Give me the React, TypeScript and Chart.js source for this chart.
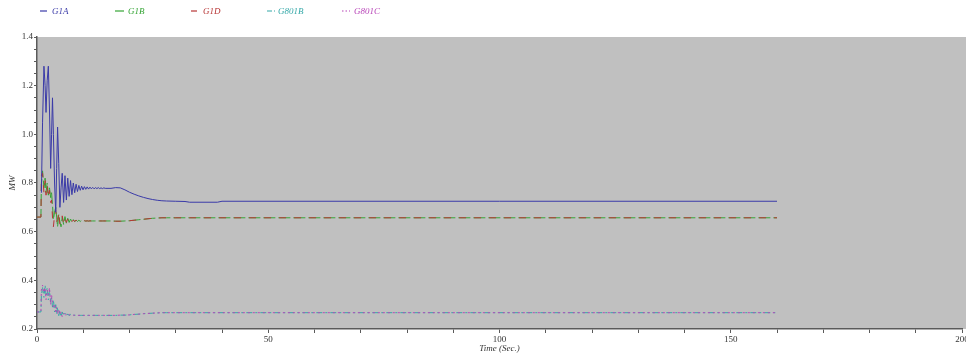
import React, { useEffect, useRef } from "react";
import { Chart, registerables } from "chart.js";

Chart.register(...registerables);

// Time axis (seconds)
const time = [
  0, 0.85, 0.95, 1.2, 1.5, 1.75, 1.95, 2.2, 2.45, 2.7,
  2.95, 3.15, 3.35, 3.55, 3.8, 4.05, 4.25, 4.45, 4.7, 4.95,
  5.2, 5.45, 5.75, 6.05, 6.35, 6.65, 6.95, 7.25, 7.55, 7.85,
  8.15, 8.45, 8.75, 9.05, 9.35, 9.65, 9.95, 10.25, 10.55, 10.85,
  11.15, 11.45, 11.75, 12.05, 12.35, 12.65, 12.95, 13.25, 13.55, 13.85,
  14.15, 14.45, 14.75, 16, 17, 18, 19, 20, 21, 22,
  23, 24, 25, 26, 27, 28, 30, 32, 33, 39,
  40, 160,
];

const g1a = [
  null, null, 0.76, 1.05, 1.28, 1.2, 1.09, 1.22, 1.28, 1.1,
  0.86, 1.0, 1.15, 1.0, 0.8, 0.68, 0.86, 1.03, 0.88, 0.7,
  0.78, 0.84, 0.72, 0.83, 0.73, 0.82, 0.745, 0.81, 0.752, 0.8,
  0.76, 0.795, 0.765, 0.79, 0.77, 0.787, 0.772, 0.785, 0.774, 0.784,
  0.775, 0.783, 0.776, 0.782, 0.776, 0.781, 0.777, 0.781, 0.777, 0.78,
  0.777, 0.78, 0.778, 0.778, 0.781, 0.78, 0.772, 0.762, 0.754, 0.747,
  0.741, 0.736, 0.732, 0.729, 0.727, 0.726, 0.725, 0.724, 0.721, 0.721,
  0.725, 0.725,
];

const g1b = [
  0.66, 0.66, 0.8, 0.85, 0.78, 0.82, 0.76, 0.8, 0.75, 0.78,
  0.74, 0.76, 0.71, 0.65, 0.68, 0.7, 0.66, 0.62, 0.67, 0.64,
  0.62, 0.66, 0.63, 0.662, 0.635, 0.655, 0.638, 0.652, 0.64, 0.65,
  0.641, 0.648, 0.642, 0.647, 0.642, 0.646, 0.643, 0.645, 0.643, 0.645,
  0.643, 0.645, 0.644, 0.644, 0.644, 0.644, 0.644, 0.644, 0.644, 0.644,
  0.644, 0.644, 0.644, 0.644, 0.643, 0.643, 0.644, 0.645, 0.647, 0.649,
  0.651, 0.653, 0.655, 0.656, 0.657, 0.657, 0.657, 0.657, 0.657, 0.657,
  0.657, 0.657,
];

const g1d = [
  0.66, 0.66, 0.83, 0.84, 0.76, 0.81, 0.75, 0.79, 0.74, 0.77,
  0.72, 0.73, 0.66, 0.62, 0.67, 0.69, 0.64, 0.65, 0.68, 0.63,
  0.64, 0.665, 0.635, 0.655, 0.638, 0.652, 0.64, 0.65, 0.641, 0.648,
  0.642, 0.647, 0.643, 0.646, 0.644, 0.645, 0.644, 0.645, 0.644, 0.644,
  0.644, 0.644, 0.644, 0.644, 0.644, 0.644, 0.644, 0.644, 0.644, 0.644,
  0.644, 0.644, 0.644, 0.644, 0.643, 0.643, 0.644, 0.645, 0.647, 0.649,
  0.651, 0.653, 0.655, 0.656, 0.657, 0.657, 0.657, 0.657, 0.657, 0.657,
  0.657, 0.657,
];

const g801b = [
  0.27, 0.27, 0.34, 0.37, 0.33, 0.38, 0.34, 0.37, 0.32, 0.36,
  0.31, 0.33, 0.29, 0.32, 0.27, 0.3, 0.26, 0.29, 0.255, 0.275,
  0.25, 0.27, 0.255, 0.265, 0.254, 0.262, 0.255, 0.26, 0.256, 0.258,
  0.256, 0.257, 0.256, 0.256, 0.256, 0.256, 0.256, 0.256, 0.256, 0.256,
  0.256, 0.256, 0.256, 0.256, 0.256, 0.256, 0.256, 0.256, 0.256, 0.256,
  0.256, 0.256, 0.256, 0.256, 0.256, 0.257, 0.257, 0.258, 0.26, 0.261,
  0.263, 0.264, 0.265, 0.266, 0.267, 0.267, 0.267, 0.267, 0.267, 0.267,
  0.267, 0.267,
];

const g801c = [
  0.27, 0.27, 0.36, 0.38, 0.35, 0.37, 0.32, 0.36, 0.34, 0.37,
  0.3, 0.34, 0.31, 0.29, 0.3, 0.27, 0.29, 0.26, 0.28, 0.26,
  0.27, 0.25, 0.265, 0.253, 0.262, 0.255, 0.26, 0.256, 0.258, 0.256,
  0.257, 0.256, 0.256, 0.256, 0.256, 0.256, 0.256, 0.256, 0.256, 0.256,
  0.256, 0.256, 0.256, 0.256, 0.256, 0.256, 0.256, 0.256, 0.256, 0.256,
  0.256, 0.256, 0.256, 0.256, 0.256, 0.257, 0.257, 0.258, 0.26, 0.261,
  0.263, 0.264, 0.265, 0.266, 0.267, 0.267, 0.267, 0.267, 0.267, 0.267,
  0.267, 0.267,
];

const seriesNames = ["G1A", "G1B", "G1D", "G801B", "G801C"];
const seriesValues = [g1a, g1b, g1d, g801b, g801c];
const seriesColors = ["#3a3aa8", "#35a535", "#b83535", "#35a8a8", "#b845b8"];
const seriesDashes: number[][] = [[], [12, 3], [7, 8], [6, 3, 2, 3], [2, 3]];
const seriesOrder = [0, 2, 1, 4, 3];

const xTitle = "Time (Sec.)";
const yTitle = "MW";

// legend positions (line start, line width, text start)
const legendLayout = [
  { lx: 40, lw: 7, tx: 52 },
  { lx: 115, lw: 9, tx: 128 },
  { lx: 191, lw: 6, tx: 203 },
  { lx: 267, lw: 8, tx: 278 },
  { lx: 342, lw: 8, tx: 354 },
];

const FONT = "'Liberation Serif', 'DejaVu Serif', serif";

const bgPlugin = {
  id: "bgPlugin",
  beforeDraw(chart: any) {
    const { ctx, chartArea, width, height } = chart;
    ctx.save();
    ctx.fillStyle = "#ffffff";
    ctx.fillRect(0, 0, width, height);
    ctx.fillStyle = "#c0c0c0";
    ctx.fillRect(chartArea.left, chartArea.top, width - chartArea.left, chartArea.bottom - chartArea.top);
    ctx.restore();
  },
};

export default function App() {
  const canvasRef = useRef<HTMLCanvasElement | null>(null);

  useEffect(() => {
    if (!canvasRef.current) return;
    const datasets = seriesNames.map((name, i) => ({
      label: name,
      data: time.map((t, k) => ({ x: t, y: seriesValues[i][k] })),
      borderColor: seriesColors[i],
      backgroundColor: seriesColors[i],
      borderWidth: 1,
      borderDash: seriesDashes[i],
      pointRadius: 0,
      tension: 0,
      fill: false,
      spanGaps: false,
      order: seriesOrder[i],
    }));

    const chart = new Chart(canvasRef.current, {
      type: "line",
      data: { datasets },
      plugins: [bgPlugin],
      options: {
        animation: false,
        responsive: false,
        devicePixelRatio: 1,
        layout: { padding: { top: 37, right: 4, left: 0, bottom: 0 } },
        plugins: { legend: { display: false }, tooltip: { enabled: false } },
        scales: {
          x: {
            type: "linear",
            min: 0,
            max: 200,
            border: { display: true, color: "#5a5a5a", width: 1.5 },
            grid: { drawOnChartArea: false, drawTicks: true, tickLength: 4, color: "#5a5a5a" },
            ticks: {
              stepSize: 10,
              autoSkip: false,
              maxRotation: 0,
              padding: 1,
              color: "#333",
              font: { family: FONT, size: 9 },
              callback: (v: any) => (Math.round(v) % 50 === 0 ? String(Math.round(v)) : ""),
            },
            title: {
              display: true,
              text: xTitle,
              color: "#333",
              font: { family: FONT, size: 9, style: "italic" },
              padding: { top: 0, bottom: 2 },
            },
            afterFit: (s: any) => {
              s.height = 27;
              s.paddingLeft = 0;
              s.paddingRight = 0;
            },
          },
          y: {
            type: "linear",
            min: 0.2,
            max: 1.4,
            border: { display: true, color: "#5a5a5a", width: 1.5 },
            grid: { drawOnChartArea: false, drawTicks: true, tickLength: 3, color: "#5a5a5a" },
            ticks: {
              stepSize: 0.05,
              maxTicksLimit: 100,
              autoSkip: false,
              padding: 1,
              color: "#333",
              font: { family: FONT, size: 9 },
              callback: (v: any) => {
                const r = Math.round(v * 100);
                return r % 20 === 0 ? (r / 100).toFixed(1) : "";
              },
            },
            title: {
              display: true,
              text: yTitle,
              color: "#333",
              font: { family: FONT, size: 9, style: "italic" },
              padding: { top: 7, bottom: 0 },
            },
            afterFit: (s: any) => {
              s.width = 37;
              s.paddingTop = 0;
              s.paddingBottom = 0;
            },
          },
        },
      },
    } as any);
    return () => chart.destroy();
  }, []);

  return (
    <div style={{ position: "absolute", left: 0, top: 0, width: 966, height: 356, background: "#fff" }}>
      <canvas ref={canvasRef} width={966} height={356} style={{ display: "block", width: 966, height: 356 }} />
      {seriesNames.map((name, i) => {
        const L = legendLayout[i];
        return (
          <React.Fragment key={name}>
            <svg
              width={L.lw + 2}
              height={6}
              style={{ position: "absolute", left: L.lx, top: 8 }}
            >
              <line
                x1={0}
                y1={3}
                x2={L.lw}
                y2={3}
                stroke={seriesColors[i]}
                strokeWidth={1.2}
                strokeDasharray={i === 3 ? "5,2,1.5,2" : i === 4 ? "1.5,2" : undefined}
              />
            </svg>
            <span
              style={{
                position: "absolute",
                left: L.tx,
                top: 6,
                fontFamily: FONT,
                fontStyle: "italic",
                fontSize: 9,
                lineHeight: "10px",
                color: seriesColors[i],
                whiteSpace: "nowrap",
              }}
            >
              {name}
            </span>
          </React.Fragment>
        );
      })}
    </div>
  );
}
